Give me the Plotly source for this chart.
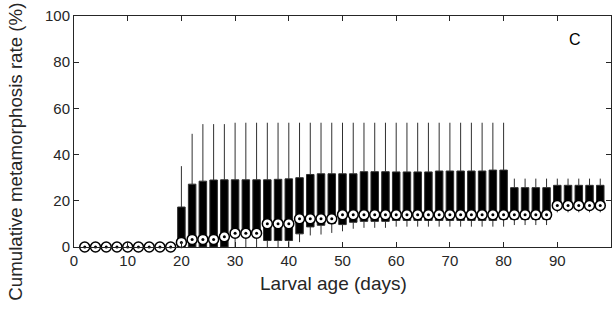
import plotly.graph_objects as go

days = list(range(2, 100, 2))

median = [0]*9 + [2.0, 3.3, 3.3, 3.3, 4.4, 6.0, 6.0, 6.0, 10.1, 10.1, 10.1,
                  12.2, 12.2, 12.2, 12.2, 14.0, 14.0, 14.0, 14.0, 14.0,
                  14.0, 14.0, 14.0, 14.0, 14.0, 14.0, 14.0, 14.0, 14.0, 14.0,
                  14.0, 14.0, 14.0, 14.0, 14.0,
                  18.0, 18.0, 18.0, 18.0, 18.0]
q1 = [0]*9 + [0, 0, 0, 0, 0, 4.5, 4.5, 4.5, 2.8, 2.8, 2.8,
              5.7, 8.7, 9.4, 10.3, 9.7, 10.7, 11.1, 11.1, 11.1,
              11.5, 11.5, 11.5, 11.5, 11.5, 11.5, 11.5, 11.5, 11.5, 11.5,
              12.0, 12.0, 12.0, 12.0, 12.0,
              17.0, 17.0, 17.0, 17.0, 17.0]
q3 = [0]*9 + [17.3, 27.2, 28.5, 29.0, 29.1, 29.1, 29.1, 29.1, 29.1, 29.3, 29.5,
              30.0, 31.4, 31.7, 31.7, 31.7, 31.7, 32.6, 32.6, 32.6,
              32.5, 32.5, 32.5, 32.5, 32.9, 32.9, 32.9, 32.9, 32.9, 33.3,
              33.3, 25.7, 25.7, 25.7, 25.7,
              26.7, 26.7, 26.7, 26.7, 26.7]
lower = [0]*9 + [0, 0, 0, 0, 0, 0, 0, 0, 0, 0, 0,
                 2.1, 5.0, 5.4, 6.1, 6.8, 7.9, 8.3, 8.3, 8.3,
                 8.8, 8.8, 8.8, 8.8, 8.8, 8.8, 8.8, 8.8, 8.8, 8.8,
                 8.8, 9.5, 9.5, 9.5, 9.5,
                 15.0, 15.0, 15.0, 15.0, 15.0]
upper = [0]*9 + [35.0, 49.0, 53.2, 53.2, 53.2, 53.8, 53.8, 53.8, 53.8, 53.8, 53.8,
                 53.8, 53.8, 53.8, 53.8, 53.8, 53.8, 53.8, 53.8, 53.8,
                 53.8, 53.8, 53.8, 53.8, 53.8, 53.8, 53.8, 53.8, 53.8, 53.8,
                 53.8, 29.6, 29.6, 29.6, 29.6,
                 29.6, 29.6, 29.6, 29.6, 29.6]

x_ticks = [0, 10, 20, 30, 40, 50, 60, 70, 80, 90]
y_ticks = [0, 20, 40, 60, 80, 100]

FONT = "Liberation Sans, Arial, sans-serif"
TXT = "#262626"

fig = go.Figure()
fig.add_trace(go.Box(
    x=days, q1=q1, median=median, q3=q3,
    lowerfence=lower, upperfence=upper,
    width=1.4, whiskerwidth=0,
    fillcolor="black",
    line=dict(color="#303030", width=1),
    boxpoints=False, hoverinfo="skip", showlegend=False,
))
fig.add_trace(go.Scatter(
    x=days, y=median, mode="markers",
    marker=dict(symbol="circle", size=10, color="white",
                line=dict(color="black", width=1.5)),
    showlegend=False, hoverinfo="skip", cliponaxis=False,
))
fig.add_trace(go.Scatter(
    x=days, y=median, mode="markers",
    marker=dict(symbol="circle", size=3, color="black"),
    showlegend=False, hoverinfo="skip", cliponaxis=False,
))

fig.add_annotation(x=93.3, y=90, xref="x", yref="y", text="C", showarrow=False,
                   font=dict(family=FONT, size=16, color="black"))
fig.add_annotation(x=(333 - 74) / 537, y=(247.5 - 284) / 231.5, xref="paper", yref="paper",
                   text="Larval age (days)", showarrow=False,
                   xanchor="center", yanchor="middle",
                   font=dict(family=FONT, size=19, color=TXT))
fig.add_annotation(x=(16 - 74) / 537, y=(247.5 - 152) / 231.5, xref="paper", yref="paper",
                   text="Cumulative metamorphosis rate (%)", showarrow=False, textangle=-90,
                   xanchor="center", yanchor="middle",
                   font=dict(family=FONT, size=18.7, color=TXT))

axis_common = dict(
    showline=True, linecolor=TXT, linewidth=1, mirror="ticks",
    ticks="inside", ticklen=5, tickcolor=TXT, tickwidth=1,
    showgrid=False, zeroline=False, automargin=False,
    tickfont=dict(family=FONT, size=15, color=TXT),
)

fig.update_layout(
    width=612, height=309,
    margin=dict(l=74, r=1, t=16, b=61.5),
    paper_bgcolor="white", plot_bgcolor="white",
    hovermode=False,
    xaxis=dict(range=[0, 100], tickvals=x_ticks, **axis_common),
    yaxis=dict(range=[0, 100], tickvals=y_ticks, **axis_common),
)

fig.write_html("out.html", config={"displayModeBar": False, "staticPlot": True},
               post_script="document.body.style.margin='0px';")
